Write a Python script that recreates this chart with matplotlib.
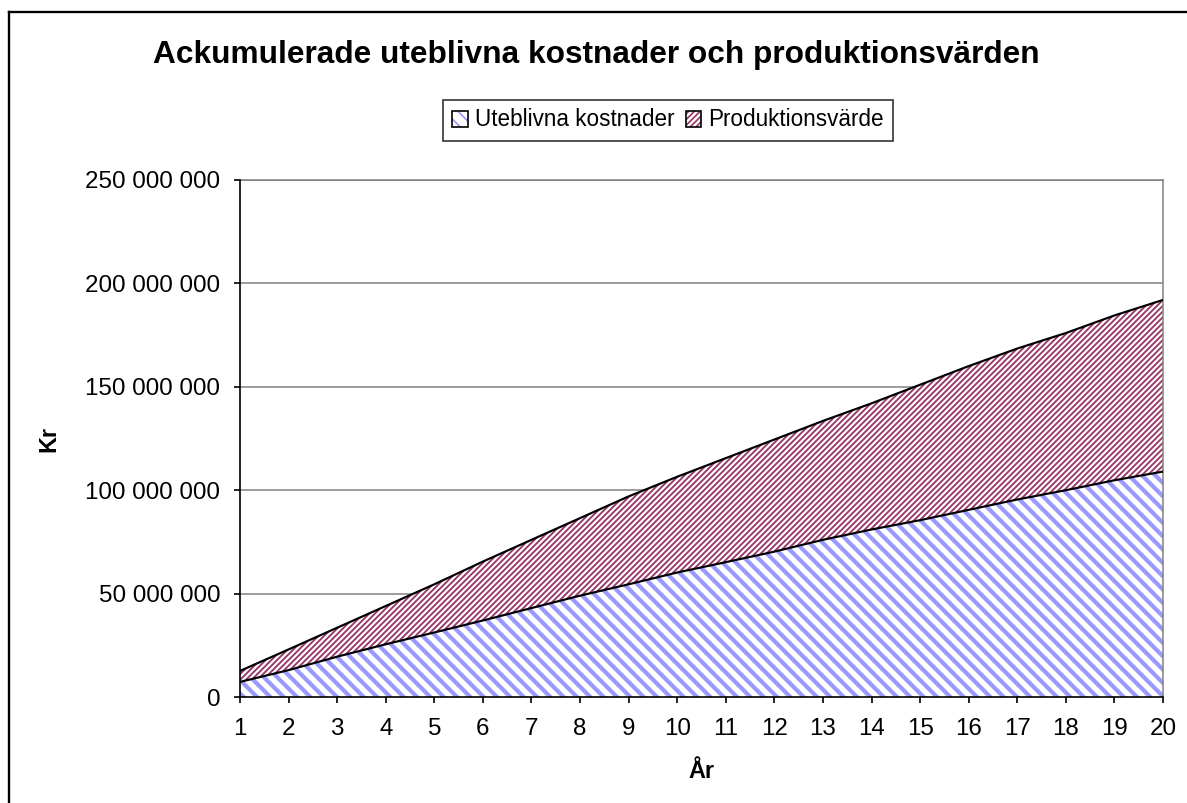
import matplotlib
matplotlib.use("Agg")
import matplotlib.pyplot as plt
from matplotlib.patches import Patch
from matplotlib.ticker import FuncFormatter

# Data (kr, accumulated)
years = list(range(1, 21))
uteblivna_kostnader = [7.3e6, 13.0e6, 19.5e6, 25.5e6, 31.2e6, 37.0e6, 43.0e6, 49.0e6,
                       54.5e6, 60.2e6, 65.2e6, 70.3e6, 76.0e6, 81.0e6, 85.5e6, 90.5e6,
                       95.5e6, 100.0e6, 104.8e6, 109.0e6]
produktionsvarde = [5.3e6, 10.0e6, 14.0e6, 18.5e6, 23.3e6, 28.5e6, 33.0e6, 37.5e6,
                    42.5e6, 46.3e6, 50.3e6, 54.2e6, 57.5e6, 61.0e6, 65.5e6, 69.5e6,
                    73.0e6, 76.0e6, 79.7e6, 83.0e6]
y_ticks = [0, 50e6, 100e6, 150e6, 200e6, 250e6]

title = "Ackumulerade uteblivna kostnader och produktionsvärden"
series_names = ["Uteblivna kostnader", "Produktionsvärde"]

BLUE = "#9999FF"
MAROON = "#993366"
BLUE_HATCH, BLUE_HATCH_LW = "\\" * 3, 2.5
RED_HATCH, RED_HATCH_LW = "/" * 7, 1.1

plt.rcParams["font.family"] = ["Liberation Sans", "DejaVu Sans"]

DPI = 120
fig = plt.figure(figsize=(1187 / DPI, 803 / DPI), dpi=DPI)
ax = fig.add_axes([240 / 1187, 1 - 697 / 803, (1163 - 240) / 1187, (697 - 180) / 803])

total = [a + b for a, b in zip(uteblivna_kostnader, produktionsvarde)]


def hatched(artist, lw):
    if hasattr(artist, "set_hatch_linewidth"):
        artist.set_hatch_linewidth(lw)
    return artist


with plt.rc_context({"hatch.linewidth": BLUE_HATCH_LW}):
    hatched(ax.fill_between(years, 0, uteblivna_kostnader, facecolor="white",
                            edgecolor=BLUE, hatch=BLUE_HATCH, linewidth=0, zorder=2),
            BLUE_HATCH_LW)
    blue_key = hatched(Patch(facecolor="white", edgecolor=BLUE, hatch=BLUE_HATCH, lw=0),
                       BLUE_HATCH_LW)
with plt.rc_context({"hatch.linewidth": RED_HATCH_LW}):
    hatched(ax.fill_between(years, uteblivna_kostnader, total, facecolor="white",
                            edgecolor=MAROON, hatch=RED_HATCH, linewidth=0, zorder=2),
            RED_HATCH_LW)
    red_key = hatched(Patch(facecolor="white", edgecolor=MAROON, hatch=RED_HATCH, lw=0),
                      RED_HATCH_LW)

ax.plot(years, uteblivna_kostnader, color="black", lw=1.3, zorder=3)
ax.plot(years, total, color="black", lw=1.3, zorder=3)

ax.set_xlim(1, 20)
ax.set_ylim(0, 250e6)
ax.set_xticks(years)
ax.set_yticks(y_ticks)
ax.yaxis.set_major_formatter(FuncFormatter(lambda v, p: f"{int(v):,}".replace(",", " ")))
ax.grid(axis="y", color="#7f7f7f", lw=0.9, zorder=1)
ax.set_axisbelow(True)

for side in ("top", "right"):
    ax.spines[side].set_color("#7f7f7f")
    ax.spines[side].set_linewidth(0.9)
for side in ("left", "bottom"):
    ax.spines[side].set_color("black")
    ax.spines[side].set_linewidth(1.0)
    ax.spines[side].set_zorder(4)

ax.tick_params(axis="both", direction="out", length=3.8, width=1.0, color="black",
               labelsize=14.5)
ax.tick_params(axis="y", pad=8)
ax.tick_params(axis="x", pad=9)

ax.set_xlabel("År", fontsize=14, fontweight="bold")
ax.xaxis.set_label_coords(0.5, -0.122)
ax.set_ylabel("Kr", fontsize=14, fontweight="bold")
ax.yaxis.set_label_coords(-0.195, 0.5)

fig.text(596 / 1187, 1 - 55 / 803, title, ha="center", va="center",
         fontsize=19, fontweight="bold")

outline = dict(facecolor="none", edgecolor="black", lw=1.0)
leg = fig.legend(handles=[(blue_key, Patch(**outline)), (red_key, Patch(**outline))],
                 labels=series_names, loc="center",
                 bbox_to_anchor=(668 / 1187, 1 - 120 / 803), ncol=2,
                 fontsize=13.5, frameon=True, fancybox=False, edgecolor="black",
                 handlelength=0.7, handleheight=0.7, handletextpad=0.3,
                 columnspacing=0.5, borderpad=0.4, borderaxespad=0)
leg.get_frame().set_linewidth(1.0)

# Outer chart frame (left and top edges)
fig.add_artist(plt.Line2D([9.5 / 1187, 9.5 / 1187], [0, 1 - 12 / 803],
                          color="black", lw=1.4, transform=fig.transFigure))
fig.add_artist(plt.Line2D([9.5 / 1187, 1], [1 - 12 / 803, 1 - 12 / 803],
                          color="black", lw=1.4, transform=fig.transFigure))

fig.savefig("out.png", dpi=DPI, facecolor="white")
